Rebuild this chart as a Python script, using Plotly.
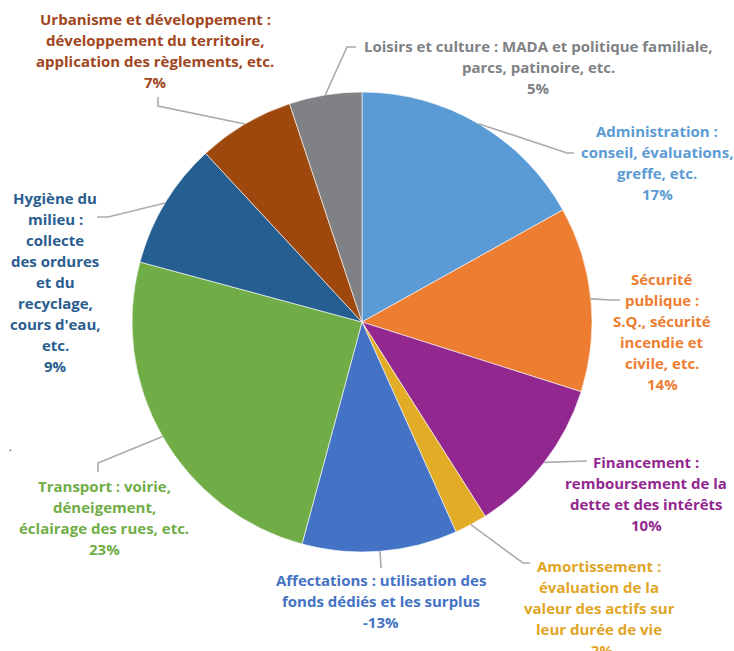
import math
import plotly.graph_objects as go

# ---- data ----
categories = ["Administration", "Sécurité publique", "Financement", "Amortissement",
              "Affectations", "Transport", "Hygiène du milieu", "Urbanisme et développement",
              "Loisirs et culture"]
slice_sizes = [16.9, 13.0, 11.1, 2.3, 10.9, 25.0, 8.9, 6.8, 5.1]
pct_labels = ["17%", "14%", "10%", "-2%", "-13%", "23%", "9%", "7%", "5%"]
label_lines = [
    ["Administration :", "conseil, évaluations,", "greffe, etc."],
    ["Sécurité", "publique :", "S.Q., sécurité", "incendie et", "civile, etc."],
    ["Financement :", "remboursement de la", "dette et des intérêts"],
    ["Amortissement :", "évaluation de la", "valeur des actifs sur", "leur durée de vie"],
    ["Affectations : utilisation des", "fonds dédiés et les surplus"],
    ["Transport : voirie,", "déneigement,", "éclairage des rues, etc."],
    ["Hygiène du", "milieu :", "collecte", "des ordures", "et du", "recyclage,", "cours d'eau,", "etc."],
    ["Urbanisme et développement :", "développement du territoire,", "application des règlements, etc."],
    ["Loisirs et culture : MADA et politique familiale,", "parcs, patinoire, etc."],
]
slice_colors = ["#5B9BD5", "#ED7D31", "#92278F", "#E2AC26", "#4472C4",
                "#70AD47", "#255E91", "#9E480E", "#808184"]
text_colors = ["#5B9BD5", "#ED7D31", "#92278F", "#E0A526", "#4472C4",
               "#70AD47", "#2A5D8F", "#A0461E", "#808184"]

# ---- layout constants (pixels) ----
W, H = 734, 651
cx, cy, r = 362, 322, 230
# label block: (center x, first line center y)
label_pos = [(657, 131), (662, 279), (646, 462), (599, 566), (381, 580),
             (104, 486), (55, 198), (155, 19), (538, 46)]
# leader elbows after the pie-edge point
leader_pts = [
    [(567, 153), (574, 153)],
    [(612, 300), (620, 300)],
    [(587, 461)],
    [(523, 563), (530, 563)],
    [(381, 568)],
    [(98, 463), (98, 472)],
    [(108, 217), (97, 217)],
    [(158, 106), (158, 97)],
    [(347, 47), (356, 47)],
]
LINE_H = 21


def px(x):
    return x / W


def py(y):
    return 1 - y / H


fig = go.Figure(go.Pie(
    labels=categories, values=slice_sizes, sort=False, direction="clockwise",
    rotation=0, textinfo="none", hoverinfo="label+percent",
    marker=dict(colors=slice_colors, line=dict(color="white", width=0.6)),
    domain=dict(x=[px(cx - r), px(cx + r)], y=[py(cy + r), py(cy - r)]),
    showlegend=False,
))

annotations = []
shapes = []
total = sum(slice_sizes)
cum = 0
for i, v in enumerate(slice_sizes):
    mid = (cum + v / 2) / total * 2 * math.pi
    cum += v
    ex = cx + r * math.sin(mid)
    ey = cy - r * math.cos(mid)
    pts = [(ex, ey)] + leader_pts[i]
    path = "M " + " L ".join(f"{px(x):.5f},{py(y):.5f}" for x, y in pts)
    shapes.append(dict(type="path", path=path, xref="paper", yref="paper",
                       line=dict(color="#ABABAB", width=1.6)))
    lx, ly = label_pos[i]
    lines = label_lines[i] + [pct_labels[i]]
    for j, t in enumerate(lines):
        annotations.append(dict(
            x=px(lx), y=py(ly + j * LINE_H), xref="paper", yref="paper",
            text=f"<b>{t}</b>", showarrow=False, xanchor="center", yanchor="middle",
            font=dict(family="Open Sans", size=15, color=text_colors[i]),
        ))

annotations.append(dict(x=px(10), y=py(456), xref="paper", yref="paper", text=".",
                        showarrow=False, font=dict(size=10, color="black"),
                        xanchor="center", yanchor="bottom"))

fig.update_layout(
    width=W, height=H, margin=dict(l=0, r=0, t=0, b=0),
    paper_bgcolor="white", plot_bgcolor="white",
    annotations=annotations, shapes=shapes,
)

fig.write_html("out.html", config={"displayModeBar": False},
               post_script="document.body.style.margin='0';document.body.style.padding='0';")
